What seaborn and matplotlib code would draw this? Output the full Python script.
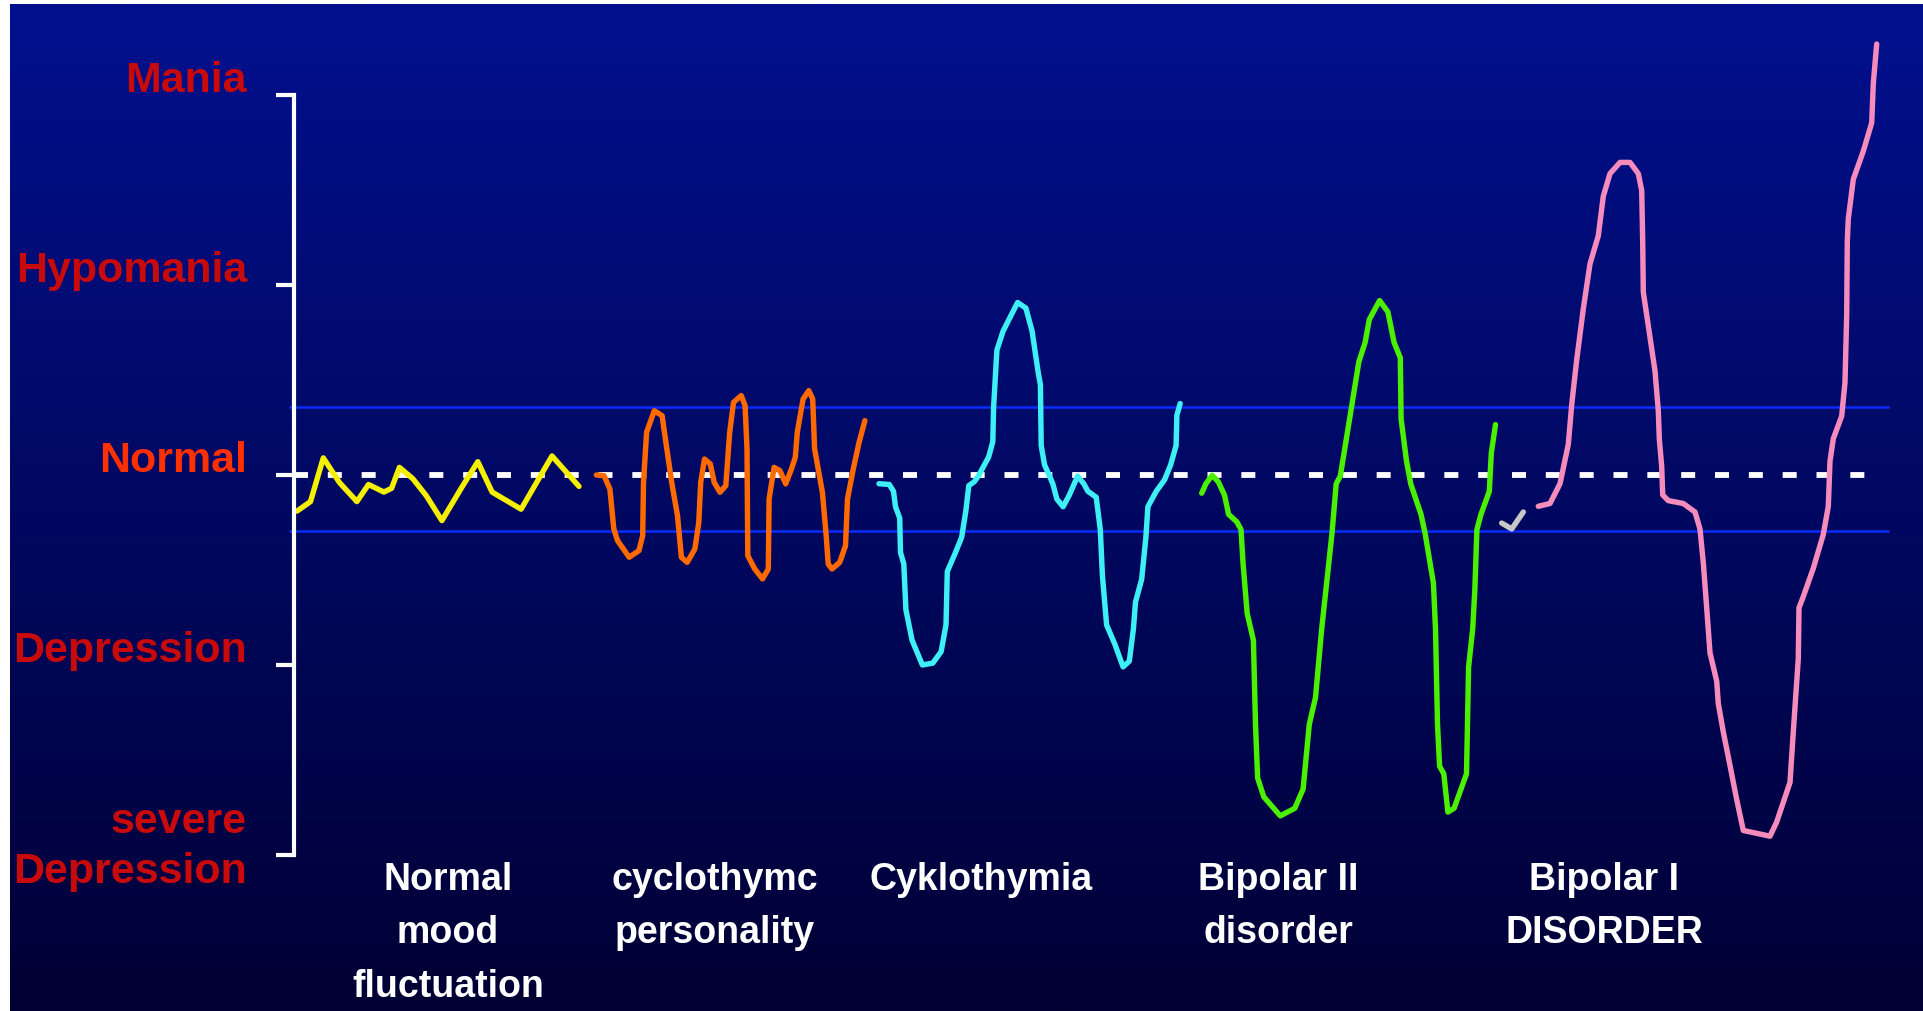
import numpy as np
import pandas as pd
import matplotlib
matplotlib.use("Agg")
import matplotlib.pyplot as plt
import seaborn as sns
from matplotlib import font_manager

# ---------------- data ----------------
# mood level: 2 = Mania, 1 = Hypomania, 0 = Normal, -1 = Depression, -2 = severe Depression
level_values = [2, 1, 0, -1, -2]
level_names = ["Mania", "Hypomania", "Normal", "Depression", "severe\nDepression"]

# band around "Normal"
band_upper = 0.36
band_lower = -0.295

categories = ["Normal\nmood\nfluctuation", "cyclothymc\npersonality", "Cyklothymia",
              "Bipolar II\ndisorder", "Bipolar I\nDISORDER"]

normal_t = [0.3, 1.65, 2.93, 4.55, 6.29, 7.45, 8.99, 9.76, 10.54, 11.89, 13.24, 14.79,
            16.72, 18.38, 19.81, 22.71, 25.8, 28.5]
normal_mood = [-0.19, -0.14, 0.09, -0.04, -0.14, -0.05, -0.09, -0.07, 0.04, -0.02, -0.11,
               -0.24, -0.07, 0.07, -0.09, -0.18, 0.10, -0.06]

cyclo_pers_t = [30.24, 31.01, 31.59, 31.98, 32.36, 33.52, 34.49, 34.87, 34.95, 35.26, 36.03,
                36.81, 37.19, 37.77, 38.35, 38.74, 39.32, 40.09, 40.48, 40.67, 41.05, 41.63,
                42.02, 42.6, 43.18, 43.57, 43.95, 44.72, 45.11, 45.3, 45.38, 46.08, 46.85,
                47.43, 47.51, 48.01, 48.59, 49.17, 49.75, 50.13, 50.33, 50.91, 51.48, 51.87,
                52.06, 52.84, 53.22, 53.42, 53.8, 54.57, 55.15, 55.35, 55.93, 56.51, 57.09]
cyclo_pers_mood = [0.0, -0.004, -0.074, -0.284, -0.346, -0.433, -0.398, -0.319, -0.039, 0.225,
                   0.338, 0.312, 0.172, -0.039, -0.214, -0.433, -0.46, -0.389, -0.249, -0.039,
                   0.084, 0.058, -0.039, -0.091, -0.056, 0.225, 0.382, 0.418, 0.365, 0.137,
                   -0.425, -0.495, -0.547, -0.495, -0.126, 0.04, 0.023, -0.047, 0.032, 0.093,
                   0.225, 0.40, 0.444, 0.40, 0.137, -0.091, -0.319, -0.468, -0.495, -0.46,
                   -0.372, -0.126, 0.032, 0.172, 0.286]

cyklo_t = [58.5, 59.53, 59.95, 60.15, 60.57, 60.65, 60.98, 61.19, 61.81, 62.84, 63.88, 64.71,
           65.2, 65.33, 66.15, 66.77, 67.19, 67.48, 68.02, 68.43, 69.46, 69.88, 69.96, 70.29,
           70.91, 72.36, 73.19, 73.81, 74.43, 74.64, 74.72, 75.05, 75.88, 76.29, 76.91, 77.53,
           78.36, 78.98, 79.39, 80.22, 80.63, 80.84, 81.26, 82.08, 82.91, 83.53, 83.94, 84.15,
           84.77, 85.19, 85.39, 86.22, 87.05, 87.67, 88.21, 88.29, 88.62]
cyklo_mood = [-0.046, -0.05, -0.086, -0.167, -0.227, -0.408, -0.468, -0.709, -0.87, -1.0, -0.99,
              -0.93, -0.789, -0.508, -0.408, -0.327, -0.187, -0.056, -0.036, -0.006, 0.094,
              0.175, 0.356, 0.657, 0.757, 0.908, 0.878, 0.757, 0.536, 0.476, 0.155, 0.054,
              -0.046, -0.127, -0.167, -0.106, -0.006, -0.046, -0.086, -0.117, -0.287, -0.528,
              -0.789, -0.89, -1.01, -0.98, -0.81, -0.669, -0.548, -0.327, -0.167, -0.086,
              -0.026, 0.054, 0.155, 0.315, 0.376]

bipolar2_t = [90.77, 91.19, 91.81, 92.43, 93.05, 93.46, 94.29, 94.7, 94.91, 95.32, 95.94, 96.15,
              96.36, 96.98, 98.63, 100.08, 100.91, 101.53, 102.15, 102.77, 103.8, 104.22,
              104.63, 105.25, 105.87, 106.49, 107.11, 107.53, 108.56, 109.39, 110.01, 110.63,
              110.71, 111.25, 111.67, 112.7, 113.11, 113.94, 114.15, 114.35, 114.56, 114.98,
              115.39, 116.01, 117.25, 117.46, 117.87, 118.08, 118.29, 118.7, 119.53, 119.73,
              120.15]
bipolar2_mood = [-0.096, -0.046, -0.002, -0.036, -0.106, -0.207, -0.247, -0.287, -0.468, -0.729,
                 -0.87, -1.312, -1.594, -1.694, -1.794, -1.754, -1.653, -1.312, -1.171, -0.81,
                 -0.307, -0.046, -0.006, 0.195, 0.396, 0.597, 0.697, 0.818, 0.918, 0.858, 0.697,
                 0.617, 0.295, 0.074, -0.046, -0.207, -0.307, -0.569, -0.81, -1.312, -1.533,
                 -1.573, -1.774, -1.754, -1.573, -1.01, -0.81, -0.609, -0.287, -0.207, -0.086,
                 0.115, 0.265]

tick_mark_t = [120.77, 121.77, 122.93]
tick_mark_mood = [-0.253, -0.284, -0.195]

bipolar1_t = [124.43, 125.6, 126.6, 127.43, 127.77, 128.27, 128.93, 129.6, 130.43, 130.93, 131.6,
              132.6, 133.6, 134.43, 134.77, 134.87, 134.93, 135.6, 136.1, 136.43, 136.53,
              136.77, 136.87, 137.43, 138.93, 140.1, 140.6, 140.93, 141.27, 141.6, 142.27,
              142.43, 142.93, 143.6, 144.27, 144.93, 146.27, 147.6, 148.27, 149.6, 149.93,
              150.43, 150.5, 150.93, 151.93, 152.93, 153.43, 153.6, 153.93, 154.77, 155.1,
              155.27, 155.33, 155.43, 155.93, 156.93, 157.77, 157.93, 158.27]
bipolar1_mood = [-0.165, -0.15, -0.046, 0.161, 0.369, 0.606, 0.874, 1.111, 1.259, 1.467, 1.586,
                 1.645, 1.645, 1.586, 1.497, 1.229, 0.963, 0.725, 0.547, 0.339, 0.191, 0.043,
                 -0.105, -0.135, -0.15, -0.195, -0.284, -0.462, -0.699, -0.936, -1.085, -1.203,
                 -1.352, -1.529, -1.708, -1.871, -1.886, -1.901, -1.826, -1.618, -1.352, -0.966,
                 -0.699, -0.64, -0.491, -0.313, -0.165, 0.073, 0.191, 0.31, 0.488, 0.844, 1.229,
                 1.348, 1.556, 1.704, 1.853, 2.06, 2.268]

series = [
    (normal_t, normal_mood, "#f5f000"),
    (cyclo_pers_t, cyclo_pers_mood, "#ff6a00"),
    (cyklo_t, cyklo_mood, "#3ef0f5"),
    (bipolar2_t, bipolar2_mood, "#4af000"),
    (bipolar1_t, bipolar1_mood, "#f58cbc"),
]

# ---------------- figure ----------------
W, H = 1923, 1012
fig = plt.figure(figsize=(W / 100, H / 100), dpi=100, facecolor="white")
ax = fig.add_axes([0, 0, 1, 1])
ax.set_facecolor("white")

xmin, xmax = -29.4, 162.9
ymin, ymax = -2.821, 2.505

# gradient background (leaves thin white border at top and left)
grad = np.linspace(0, 1, 256)[:, None]
top = np.array([2, 16, 142]) / 255
bot = np.array([0, 0, 52]) / 255
img = top[None, None, :] * (1 - grad[:, :, None]) + bot[None, None, :] * grad[:, :, None]
ax.imshow(img, extent=[-28.4, xmax, ymin, 2.474], aspect="auto", zorder=0,
          interpolation="bilinear")

# band lines and dashed normal line
ax.hlines([band_upper, band_lower], -0.5, 159.5, colors="#0a2cff", linewidth=1.8, zorder=1)
ax.plot([0, 158.9], [0, 0], color="white", lw=4.2, dashes=(2.4, 3.4), zorder=2,
        dash_capstyle="butt")

line_kw = dict(sort=False, estimator=None, linewidth=3.9, ax=ax, zorder=3,
               solid_joinstyle="round", solid_capstyle="round")
for t, m, c in series:
    sns.lineplot(x=t, y=m, color=c, **line_kw)
sns.lineplot(x=tick_mark_t, y=tick_mark_mood, color="#c8c8c8", **line_kw)

ax.set_xlim(xmin, xmax)
ax.set_ylim(ymin, ymax)

# left bracket axis
for s in ["top", "right", "bottom"]:
    ax.spines[s].set_visible(False)
ax.spines["left"].set_position(("data", 0))
ax.spines["left"].set_bounds(min(level_values), max(level_values))
ax.spines["left"].set_color("white")
ax.spines["left"].set_linewidth(3.0)
ax.spines["left"].set_zorder(4)
ax.set_yticks(level_values)
ax.tick_params(axis="y", direction="out", length=13, width=3.0, color="white",
               labelleft=False)
ax.set_xticks([])
ax.set_xlabel("")
ax.set_ylabel("")

# level labels
lab_font = dict(family="Liberation Sans", fontweight="bold", fontsize=31)
label_x = -4.7
dark_red = "#c80a0a"
for v, name in zip(level_values, level_names):
    col = "#ff3000" if v == 0 else dark_red
    lines = name.split("\n")
    if len(lines) == 1:
        ax.text(label_x, v + 0.02, name, ha="right", va="baseline", color=col, **lab_font)
    else:
        ax.text(label_x, v + 0.12, lines[0], ha="right", va="baseline", color=col, **lab_font)
        ax.text(label_x, v - 0.142, lines[1], ha="right", va="baseline", color=col, **lab_font)

# category labels
names = {f.name for f in font_manager.fontManager.ttflist}
if "Liberation Sans Narrow" in names:
    cat_family, cat_size = "Liberation Sans Narrow", 31.5
else:
    cat_family, cat_size = "Liberation Sans", 27
cat_x = [15.4, 42.1, 68.7, 98.4, 131.0]
line_levels = [-2.179, -2.458, -2.742]
for cx, cat in zip(cat_x, categories):
    for i, line in enumerate(cat.split("\n")):
        ax.text(cx, line_levels[i], line, ha="center", va="baseline", color="white",
                family=cat_family, fontweight="bold", fontsize=cat_size)

fig.savefig("out.png", dpi=100, facecolor="white")
